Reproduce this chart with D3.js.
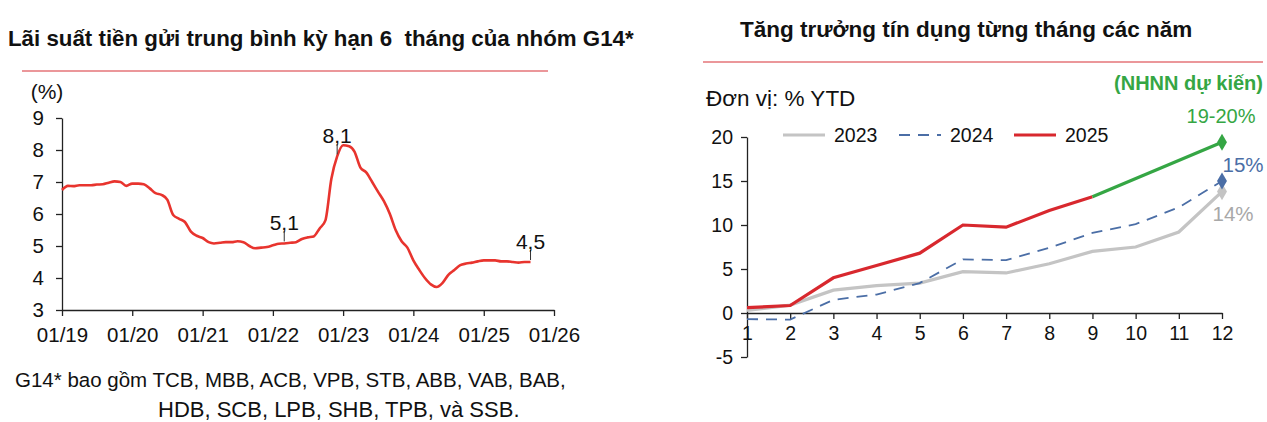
<!DOCTYPE html>
<html>
<head>
<meta charset="utf-8">
<script src="https://cdn.jsdelivr.net/npm/d3@7"></script>
<style>
  body { margin: 0; background: #fff; }
  svg { display: block; }
  text { font-family: "Liberation Sans", Arial, sans-serif; fill: #111; }
</style>
</head>
<body>
<svg id="chart" width="1267" height="422"></svg>
<script>
// ---- left chart: average 6-month deposit rate, G14 (monthly, from 01/2019)
var rateStart = '2019-01'
var rateValues = [
  6.75, 6.88, 6.87, 6.90, 6.90, 6.90, 6.92, 6.93, 6.98, 7.02, 7.00, 6.88,
  6.95, 6.95, 6.93, 6.80, 6.65, 6.60, 6.45, 5.97, 5.85, 5.75, 5.45, 5.32,
  5.25, 5.12, 5.08, 5.10, 5.12, 5.12, 5.15, 5.12, 5.00, 4.93, 4.95, 4.97,
  5.02, 5.07, 5.08, 5.10, 5.12, 5.22, 5.27, 5.30, 5.55, 5.80, 7.10, 7.80,
  8.15, 8.12, 7.95, 7.45, 7.30, 7.00, 6.70, 6.40, 6.00, 5.50, 5.15, 4.95,
  4.55, 4.25, 4.00, 3.80, 3.72, 3.85, 4.10, 4.25, 4.40, 4.45, 4.48, 4.52,
  4.55, 4.55, 4.55, 4.52, 4.52, 4.50, 4.48, 4.50, 4.50
]
var rateTicksY = [3, 4, 5, 6, 7, 8, 9]
var rateTickYears = ['2019', '2020', '2021', '2022', '2023', '2024', '2025', '2026']
// annotated points: [month, label]
var rateNotes = [['2022-03', '5,1'], ['2022-12', '8,1'], ['2025-09', '4,5']]

// ---- right chart: credit growth YTD by month
var months = [1, 2, 3, 4, 5, 6, 7, 8, 9, 10, 11, 12]
var credit2023 = [0.3, 0.9, 2.6, 3.1, 3.4, 4.7, 4.55, 5.6, 7.0, 7.5, 9.2, 13.8]
var credit2024 = [-0.7, -0.75, 1.5, 2.1, 3.4, 6.1, 6.0, 7.4, 9.1, 10.1, 12.0, 15.0]
var credit2025 = [0.6, 0.85, 4.0, 5.4, 6.8, 10.0, 9.75, 11.65, 13.2]
var targetMonths = [9, 12]
var targetValues = [13.2, 19.4]
var creditTicksY = [-5, 0, 5, 10, 15, 20]
var seriesNames = ['2023', '2024', '2025']

var svg = d3.select('#chart')

var red = '#d8282e'
var sepColor = '#e57478'

// ================= LEFT =================
svg.append('text')
  .attr('x', 8).attr('y', 46)
  .attr('xml:space', 'preserve')
  .style('font-size', '22.3px').style('font-weight', 'bold')
  .text('Lãi suất tiền gửi trung bình kỳ hạn 6  tháng của nhóm G14*')

svg.append('line')
  .attr('x1', 22).attr('x2', 548).attr('y1', 71).attr('y2', 71)
  .attr('stroke', sepColor).attr('stroke-width', 1.6)

var parseMonth = d3.timeParse('%Y-%m')
var rateDates = d3.timeMonth.range(parseMonth(rateStart), d3.timeMonth.offset(parseMonth(rateStart), rateValues.length))

var xL = d3.scaleTime()
  .domain([parseMonth(rateTickYears[0] + '-01'), parseMonth(rateTickYears[rateTickYears.length - 1] + '-01')])
  .range([62, 554])
var yL = d3.scaleLinear().domain([3, 9]).range([310, 118])

var gL = svg.append('g')

gL.append('g')
  .attr('transform', 'translate(62,0)')
  .call(d3.axisLeft(yL).tickValues(rateTicksY).tickFormat(d => d).tickSize(6).tickSizeOuter(0).tickPadding(12))
  .call(g => g.selectAll('text').style('font-size', '20.5px').attr('fill', '#111'))
  .call(g => g.selectAll('line,path').attr('stroke', '#222').attr('stroke-width', 1.3))

gL.append('g')
  .attr('transform', 'translate(0,310)')
  .call(d3.axisBottom(xL)
    .tickValues(rateTickYears.map(y => parseMonth(y + '-01')))
    .tickFormat(d3.timeFormat('%m/%y'))
    .tickSize(6).tickSizeOuter(0).tickPadding(11))
  .call(g => g.selectAll('text').style('font-size', '20.5px').attr('fill', '#111'))
  .call(g => g.selectAll('line,path').attr('stroke', '#222').attr('stroke-width', 1.3))

svg.append('text')
  .attr('x', 47).attr('y', 99).attr('text-anchor', 'middle')
  .style('font-size', '21px').text('(%)')

gL.append('path')
  .datum(rateValues)
  .attr('fill', 'none')
  .attr('stroke', '#e8342e')
  .attr('stroke-width', 2.6)
  .attr('stroke-linejoin', 'round')
  .attr('d', d3.line()
    .x((d, i) => xL(rateDates[i]))
    .y(d => yL(d))
    .curve(d3.curveMonotoneX))

rateNotes.forEach(function(n) {
  var idx = d3.timeMonth.count(parseMonth(rateStart), parseMonth(n[0]))
  var px = xL(rateDates[idx]), py = yL(rateValues[idx])
  gL.append('line')
    .attr('x1', px).attr('x2', px).attr('y1', py - 2).attr('y2', py - 12)
    .attr('stroke', '#333').attr('stroke-width', 1)
  gL.append('text')
    .attr('x', px).attr('y', py - 13).attr('text-anchor', 'middle')
    .style('font-size', '21px').text(n[1])
})

// footnote
svg.append('text')
  .attr('x', 15).attr('y', 387)
  .style('font-size', '20.5px')
  .text('G14* bao gồm TCB, MBB, ACB, VPB, STB, ABB, VAB, BAB,')
svg.append('text')
  .attr('x', 158).attr('y', 417)
  .style('font-size', '22px')
  .text('HDB, SCB, LPB, SHB, TPB, và SSB.')

// ================= RIGHT =================
svg.append('text')
  .attr('x', 740).attr('y', 37)
  .style('font-size', '22.5px').style('font-weight', 'bold')
  .text('Tăng trưởng tín dụng từng tháng các năm')

svg.append('line')
  .attr('x1', 703).attr('x2', 1263).attr('y1', 62).attr('y2', 62)
  .attr('stroke', sepColor).attr('stroke-width', 1.6)

svg.append('text')
  .attr('x', 706).attr('y', 106)
  .style('font-size', '22.5px')
  .text('Đơn vị: % YTD')

var xR = d3.scaleLinear().domain([1, 12]).range([747, 1222])
var yR = d3.scaleLinear().domain([-5, 20]).range([357, 137])

var gR = svg.append('g')

gR.append('g')
  .attr('transform', 'translate(747,0)')
  .call(d3.axisLeft(yR).tickValues(creditTicksY).tickFormat(d => d).tickSize(6).tickSizeOuter(0).tickPadding(8))
  .call(g => g.selectAll('text').style('font-size', '19.5px').attr('fill', '#111'))
  .call(g => g.selectAll('line,path').attr('stroke', '#222').attr('stroke-width', 1.3))

gR.append('g')
  .attr('transform', 'translate(0,' + yR(0) + ')')
  .call(d3.axisBottom(xR).tickValues(months).tickFormat(d => d).tickSize(6).tickSizeOuter(0).tickPadding(7))
  .call(g => g.selectAll('text').style('font-size', '19.5px').attr('fill', '#111'))
  .call(g => g.selectAll('line,path').attr('stroke', '#222').attr('stroke-width', 1.3))

var lineR = d3.line().x((d, i) => xR(months[i])).y(d => yR(d))

var seriesStyles = [
  { data: credit2023, color: '#c4c4c4', width: 3.2, dash: null },
  { data: credit2024, color: '#4b6ea6', width: 1.8, dash: '11,8' },
  { data: credit2025, color: red, width: 3.2, dash: null }
]

seriesStyles.forEach(function(s) {
  gR.append('path')
    .datum(s.data)
    .attr('fill', 'none')
    .attr('stroke', s.color)
    .attr('stroke-width', s.width)
    .attr('stroke-dasharray', s.dash)
    .attr('d', lineR)
})

gR.append('path')
  .datum(targetValues)
  .attr('fill', 'none')
  .attr('stroke', '#35a644')
  .attr('stroke-width', 3.2)
  .attr('d', d3.line().x((d, i) => xR(targetMonths[i])).y(d => yR(d)))

// end diamonds
var diamond = d3.symbol().type(d3.symbolDiamond).size(85)
var ends = [
  { v: credit2023[11], c: '#c4c4c4' },
  { v: credit2024[11], c: '#4b6ea6' },
  { v: targetValues[1], c: '#35a644' }
]
ends.forEach(function(e) {
  gR.append('path')
    .attr('d', diamond)
    .attr('transform', 'translate(' + xR(12) + ',' + yR(e.v) + ')')
    .attr('fill', e.c)
})

// end labels
gR.append('text').attr('x', 1263).attr('y', 90).attr('text-anchor', 'end')
  .style('font-size', '20px').style('font-weight', 'bold').style('fill', '#35a644')
  .text('(NHNN dự kiến)')
gR.append('text').attr('x', 1221).attr('y', 123).attr('text-anchor', 'middle')
  .style('font-size', '20px').style('fill', '#35a644')
  .text('19-20%')
gR.append('text').attr('x', 1243).attr('y', 172).attr('text-anchor', 'middle')
  .style('font-size', '20.5px').style('fill', '#4b6ea6')
  .text('15%')
gR.append('text').attr('x', 1233).attr('y', 221).attr('text-anchor', 'middle')
  .style('font-size', '20.5px').style('fill', '#a8a8a8')
  .text('14%')

// legend
var legX = [783, 899, 1014]
seriesStyles.forEach(function(s, i) {
  var lg = gR.append('g').attr('transform', 'translate(' + legX[i] + ',135)')
  lg.append('line')
    .attr('x1', 0).attr('x2', 42)
    .attr('stroke', s.color)
    .attr('stroke-width', s.width)
    .attr('stroke-dasharray', s.dash)
  lg.append('text')
    .attr('x', 51).attr('y', 7)
    .style('font-size', '19.5px')
    .text(seriesNames[i])
})
</script>
</body>
</html>
